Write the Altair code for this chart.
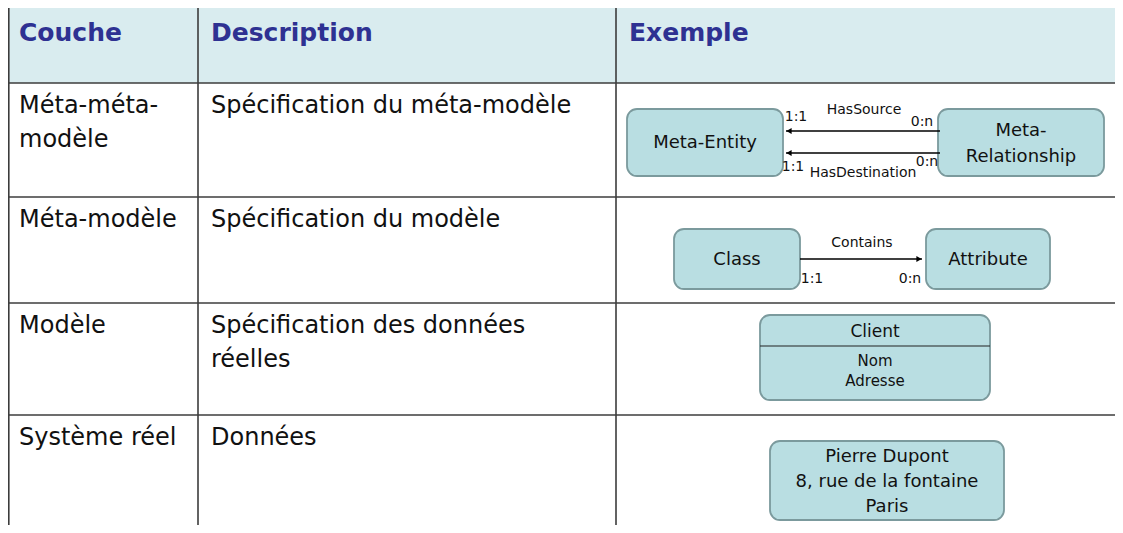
import altair as alt
import pandas as pd

# ---------------- content ----------------
HEADERS = ["Couche", "Description", "Exemple"]
LAYERS = [["Méta-méta-", "modèle"], ["Méta-modèle"], ["Modèle"], ["Système réel"]]
DESCRIPTIONS = [["Spécification du méta-modèle"], ["Spécification du modèle"],
                ["Spécification des données", "réelles"], ["Données"]]
BOX_LABELS = [["Meta-Entity"], ["Meta-", "Relationship"], ["Class"], ["Attribute"],
              ["Client"], ["Nom", "Adresse"],
              ["Pierre Dupont", "8, rue de la fontaine", "Paris"]]
LINK_NAMES = ["HasSource", "HasDestination", "Contains"]
LINK_SOURCE_CARD = ["1:1", "1:1", "1:1"]
LINK_TARGET_CARD = ["0:n", "0:n", "0:n"]

# ---------------- layout (reference pixels) ----------------
ROW_EDGES = [7, 83, 197, 303, 415, 533]
COL_EDGES = [8.8, 198, 616, 1123]
TEXT_LEFT = [19, 211, 629]
HEADER_Y = 33
ROW_TEXT_Y = [106, 220, 326, 438]
LINE_STEP = 34

BOX_RECTS = [(627, 783, 109, 176), (938, 1104, 109, 176),
             (674, 800, 229, 289), (926, 1050, 229, 289),
             (760, 990, 315, 400), (770, 1004, 441, 520)]
CLIENT_DIVIDER = (760, 990, 346)
BOX_TEXT = [(705, 143, 0, 18), (1021, 131, 26, 18), (737, 260, 0, 18),
            (988, 260, 0, 18), (875, 332, 0, 17), (875, 361, 20, 15),
            (887, 457, 25, 18)]
LINK_LINES = [(940, 786, 131), (940, 786, 153), (800, 922, 259)]
LINK_ARROW = ["triangle-left", "triangle-left", "triangle-right"]
LINK_NAME_POS = [(864, 110), (863, 173), (862, 243)]
SRC_CARD_POS = [(796, 117), (793, 167), (812, 279)]
TGT_CARD_POS = [(922, 122), (927, 162), (910, 279)]

HEADER_FILL = "#d9ecef"
HEADER_COLOR = "#2e3192"
BOX_FILL = "#b9dee2"
BOX_STROKE = "#7b9a9d"
GRID = "#3c3c3c"
FONT = "DejaVu Sans"

xs = alt.Scale(domain=[8, 1115], nice=False, zero=False)
ys = alt.Scale(domain=[8, 525], nice=False, zero=False, reverse=True)


def X(f):
    return alt.X(f, type="quantitative", scale=xs, axis=None)


def Y(f):
    return alt.Y(f, type="quantitative", scale=ys, axis=None)


# header band
header_df = pd.DataFrame([{"x": COL_EDGES[0], "x2": COL_EDGES[-1],
                           "y": ROW_EDGES[0], "y2": ROW_EDGES[1]}])
header_band = alt.Chart(header_df).mark_rect(fill=HEADER_FILL).encode(
    x=X("x"), x2="x2", y=Y("y"), y2="y2")

# grid lines
grid_rows = []
for yv in ROW_EDGES[:-1]:
    grid_rows.append({"x": COL_EDGES[0], "x2": COL_EDGES[-1], "y": yv, "y2": yv})
for xv in COL_EDGES[:-1]:
    grid_rows.append({"x": xv, "x2": xv, "y": ROW_EDGES[0], "y2": ROW_EDGES[-1]})
grid = alt.Chart(pd.DataFrame(grid_rows)).mark_rule(
    color=GRID, strokeWidth=1.6).encode(x=X("x"), x2="x2", y=Y("y"), y2="y2")

# header text
head_df = pd.DataFrame([{"x": TEXT_LEFT[i], "y": HEADER_Y, "t": h}
                        for i, h in enumerate(HEADERS)])
head_text = alt.Chart(head_df).mark_text(
    align="left", baseline="middle", font=FONT, fontSize=25,
    fontWeight="bold", color=HEADER_COLOR).encode(x=X("x"), y=Y("y"), text="t:N")

# body text
body_rows = []
for r in range(4):
    for k, line in enumerate(LAYERS[r]):
        body_rows.append({"x": TEXT_LEFT[0], "y": ROW_TEXT_Y[r] + k * LINE_STEP, "t": line})
    for k, line in enumerate(DESCRIPTIONS[r]):
        body_rows.append({"x": TEXT_LEFT[1], "y": ROW_TEXT_Y[r] + k * LINE_STEP, "t": line})
body_text = alt.Chart(pd.DataFrame(body_rows)).mark_text(
    align="left", baseline="middle", font=FONT, fontSize=24,
    color="#111111").encode(x=X("x"), y=Y("y"), text="t:N")

# boxes
box_df = pd.DataFrame([{"x": a, "x2": b, "y": c, "y2": d} for a, b, c, d in BOX_RECTS])
boxes = alt.Chart(box_df).mark_rect(
    fill=BOX_FILL, stroke=BOX_STROKE, strokeWidth=1.8, cornerRadius=10).encode(
    x=X("x"), x2="x2", y=Y("y"), y2="y2")

divider = alt.Chart(pd.DataFrame([{"x": CLIENT_DIVIDER[0], "x2": CLIENT_DIVIDER[1],
                                   "y": CLIENT_DIVIDER[2]}])).mark_rule(
    color="#222222", strokeWidth=1.2).encode(x=X("x"), x2="x2", y=Y("y"))

box_rows = []
for labels, (cx, cy, step, fs) in zip(BOX_LABELS, BOX_TEXT):
    for k, line in enumerate(labels):
        box_rows.append({"x": cx, "y": cy + k * step, "t": line, "fs": fs})
box_text = alt.Chart(pd.DataFrame(box_rows)).mark_text(
    align="center", baseline="middle", font=FONT, color="#111111").encode(
    x=X("x"), y=Y("y"), text="t:N", size=alt.Size("fs:Q", scale=None))

# links
link_df = pd.DataFrame([{"x": a, "x2": b, "y": c} for a, b, c in LINK_LINES])
links = alt.Chart(link_df).mark_rule(color="#000000", strokeWidth=1.6).encode(
    x=X("x"), x2="x2", y=Y("y"))

arrow_rows = []
for (a, b, c), shp in zip(LINK_LINES, LINK_ARROW):
    off = 3 if shp == "triangle-left" else -3
    arrow_rows.append({"x": b + off, "y": c, "shape": shp})
arrows = alt.Chart(pd.DataFrame(arrow_rows)).mark_point(
    filled=True, color="#000000", opacity=1, size=36).encode(
    x=X("x"), y=Y("y"), shape=alt.Shape("shape:N", scale=None))

small_rows = []
for i in range(3):
    small_rows.append({"x": LINK_NAME_POS[i][0], "y": LINK_NAME_POS[i][1], "t": LINK_NAMES[i]})
    small_rows.append({"x": SRC_CARD_POS[i][0], "y": SRC_CARD_POS[i][1], "t": LINK_SOURCE_CARD[i]})
    small_rows.append({"x": TGT_CARD_POS[i][0], "y": TGT_CARD_POS[i][1], "t": LINK_TARGET_CARD[i]})
small_text = alt.Chart(pd.DataFrame(small_rows)).mark_text(
    align="center", baseline="middle", font=FONT, fontSize=14,
    color="#111111").encode(x=X("x"), y=Y("y"), text="t:N")

chart = alt.layer(header_band, boxes, divider, links, arrows, grid,
                  head_text, body_text, box_text, small_text).properties(
    width=1107, height=517, autosize="none", padding=0, background="white"
).configure_view(strokeWidth=0)

chart.save("out.html", embed_options={"renderer": "svg", "actions": False})
